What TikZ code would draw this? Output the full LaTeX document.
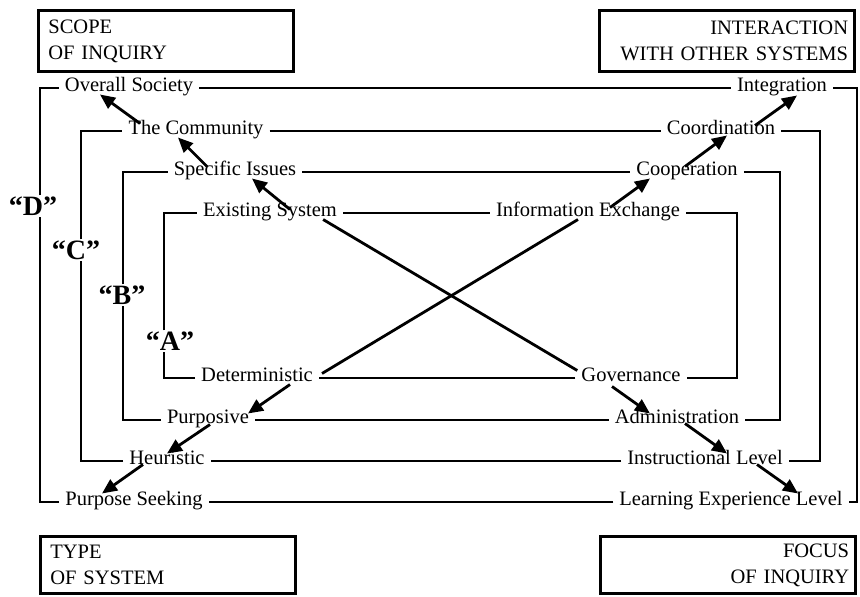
\documentclass[tikz,border=0pt]{standalone}
\usepackage{fontspec}
\setmainfont{Liberation Serif}
\usepackage{tikz}
\usetikzlibrary{arrows.meta, calc}
\tikzset{
  stage/.style={
    inner xsep=6pt, inner ysep=0pt,
    text height=0.66em, text depth=0pt,
    font=\fontsize{20.5}{24}\selectfont
  },
  corner/.style={
    draw, line width=2.8pt,
    minimum width=255pt, minimum height=61pt,
    text width=235pt, inner xsep=10pt,
    font=\fontsize{20.5}{26}\selectfont
  },
  tag/.style={
    inner sep=1pt,
    font=\fontsize{28}{30}\selectfont\bfseries
  },
  frame/.style={line width=2.8pt},
  link/.style={
    line width=2.8pt,
    -{Triangle[length=15pt,width=13pt]}
  }
}
\begin{document}
\begin{tikzpicture}[x=1pt, y=-1pt]
  \useasboundingbox (0,0) rectangle (860,597);

  % captions in the corners
  \node[corner, align=left, anchor=north west] (scope) at (37,9) {SCOPE\\OF INQUIRY};
  \node[corner, align=right, anchor=north east, text width=242pt, inner xsep=3pt] (inter) at (856,9) {INTERACTION\\WITH OTHER SYSTEMS};
  \node[corner, align=left, anchor=south west, minimum height=57pt] (type) at (39,595) {TYPE\\OF SYSTEM};
  \node[corner, align=right, anchor=south east, minimum height=57pt, text width=242pt, inner xsep=3pt] (focus) at (857,595) {FOCUS\\OF INQUIRY};

  % level "D"
  \node[stage] (society) at (129,88) {Overall Society};
  \node[stage] (integ) at (782,88) {Integration};
  \node[stage] (learn) at (731,502) {Learning Experience Level};
  \node[stage] (seek) at (134,502) {Purpose Seeking};
  % level "C"
  \node[stage] (commun) at (196,131) {The Community};
  \node[stage] (coord) at (721,131) {Coordination};
  \node[stage] (instr) at (705,461) {Instructional Level};
  \node[stage] (heur) at (167,461) {Heuristic};
  % level "B"
  \node[stage] (issues) at (235,172) {Specific Issues};
  \node[stage] (coop) at (687,172) {Cooperation};
  \node[stage] (admin) at (677,420) {Administration};
  \node[stage] (purp) at (208,420) {Purposive};
  % level "A"
  \node[stage] (exist) at (270,213) {Existing System};
  \node[stage] (info) at (588,213) {Information Exchange};
  \node[stage] (gov) at (631,378) {Governance};
  \node[stage] (deter) at (257,378) {Deterministic};

  \node[tag] (tagD) at (33,206) {“D”};
  \node[tag] (tagC) at (76,250) {“C”};
  \node[tag] (tagB) at (122,295) {“B”};
  \node[tag] (tagA) at (170,341) {“A”};

  % frame corners
  \coordinate (nwD) at (40,88);   \coordinate (seD) at (857,502);
  \coordinate (nwC) at (81,131);  \coordinate (seC) at (820,461);
  \coordinate (nwB) at (123,172); \coordinate (seB) at (780,420);
  \coordinate (nwA) at (164,213); \coordinate (seA) at (737,378);

  \foreach \k/\tl/\tr/\br/\bl in {D/society/integ/learn/seek, C/commun/coord/instr/heur, B/issues/coop/admin/purp, A/exist/info/gov/deter}{
    \draw[frame] (nw\k |- tag\k.north) -- (nw\k) -- (\tl.west);
    \draw[frame] (\tl.east) -- (\tr.west);
    \draw[frame] (\tr.east) -- (se\k |- nw\k) -- (se\k) -- (\br.east);
    \draw[frame] (\br.west) -- (\bl.east);
    \draw[frame] (\bl.west) -- (nw\k |- se\k) -- (nw\k |- tag\k.south);
  }

  % the cross
  \draw[frame] ($(exist.south east)+(-20,3)$) -- ($(gov.north west)+(2,-4)$);
  \draw[frame] ($(deter.north east)+(3,-1)$) -- ($(info.south)+(-10,3)$);

  % upward steps
  \draw[link] ($(exist.north)+(20,0)$) -- ($(issues.south)+(17,3)$);
  \draw[link] ($(issues.north)+(-28,-2)$) -- ($(commun.south)+(-18,3)$);
  \draw[link] ($(commun.north)+(-56,-4)$) -- ($(society.south)+(-29,3)$);
  \draw[link] ($(info.north)+(22,-2)$) -- ($(coop.south)+(-37,3)$);
  \draw[link] ($(coop.north)+(-2,-2)$) -- ($(coord.south)+(6,1)$);
  \draw[link] ($(coord.north)+(34,-2)$) -- ($(integ.south)+(15,4)$);
  % downward steps
  \draw[link] ($(deter.south)+(33,3)$) -- ($(purp.north)+(40,-3)$);
  \draw[link] ($(purp.south)+(2,1)$) -- ($(heur.north)+(0,-4)$);
  \draw[link] ($(heur.south)+(-24,0)$) -- ($(seek.north)+(-32,-5)$);
  \draw[link] ($(gov.south)+(-19,5)$) -- ($(admin.north)+(-27,-3)$);
  \draw[link] ($(admin.south)+(8,0)$) -- ($(instr.north)+(22,-4)$);
  \draw[link] ($(instr.south)+(52,0)$) -- ($(learn.north)+(67,-5)$);
\end{tikzpicture}
\end{document}
